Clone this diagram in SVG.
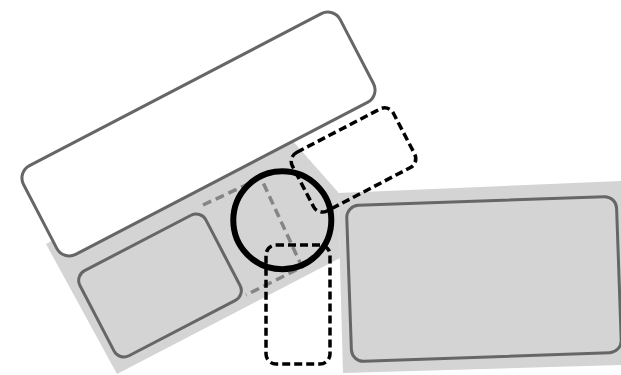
<svg xmlns="http://www.w3.org/2000/svg" width="621" height="375" viewBox="0 0 621 375">
<style>
.bg{fill:#d4d4d4;stroke:none}
.solid{stroke:#666;stroke-width:3}
.gdash{fill:none;stroke:#858585;stroke-width:3.5;stroke-dasharray:9 5}
.kdash{fill:none;stroke:#000;stroke-width:3.5;stroke-dasharray:8 4}
</style>
<rect width="621" height="375" fill="#fff"/>
<g id="band">
<polygon class="bg" points="46,244 275,121 338,192 340,258 117,374"/>
</g>
<g id="top-panel">
<rect class="solid" x="-178.5" y="-50" width="357" height="100" rx="14" fill="#fff" transform="translate(198.5 134) rotate(-27.5)"/>
</g>
<g id="lower-left-panel">
<rect class="solid" x="-71" y="-48" width="142" height="96" rx="11" fill="#d4d4d4" transform="translate(160 285.5) rotate(-27.5)"/>
</g>
<g id="connectors">
<path class="gdash" d="M203,205 L261,178 L302,267 L246,295"/>
</g>
<g id="right-panel">
<polygon class="bg" points="338,193 621,181 621,365 343,373"/>
<rect class="solid" x="-135" y="-78" width="270" height="156" rx="12" fill="#d4d4d4" stroke="#707070" transform="translate(484 279) rotate(-2)"/>
</g>
<g id="upper-dashed">
<rect class="kdash" x="-57" y="-33" width="114" height="66" rx="10" transform="translate(353.5 160) rotate(-27.5)"/>
</g>
<g id="lower-dashed">
<rect class="kdash" x="266" y="245" width="64" height="119" rx="10"/>
</g>
<g id="circle">
<circle cx="282.3" cy="220.2" r="49" fill="none" stroke="#000" stroke-width="6"/>
</g>
</svg>
